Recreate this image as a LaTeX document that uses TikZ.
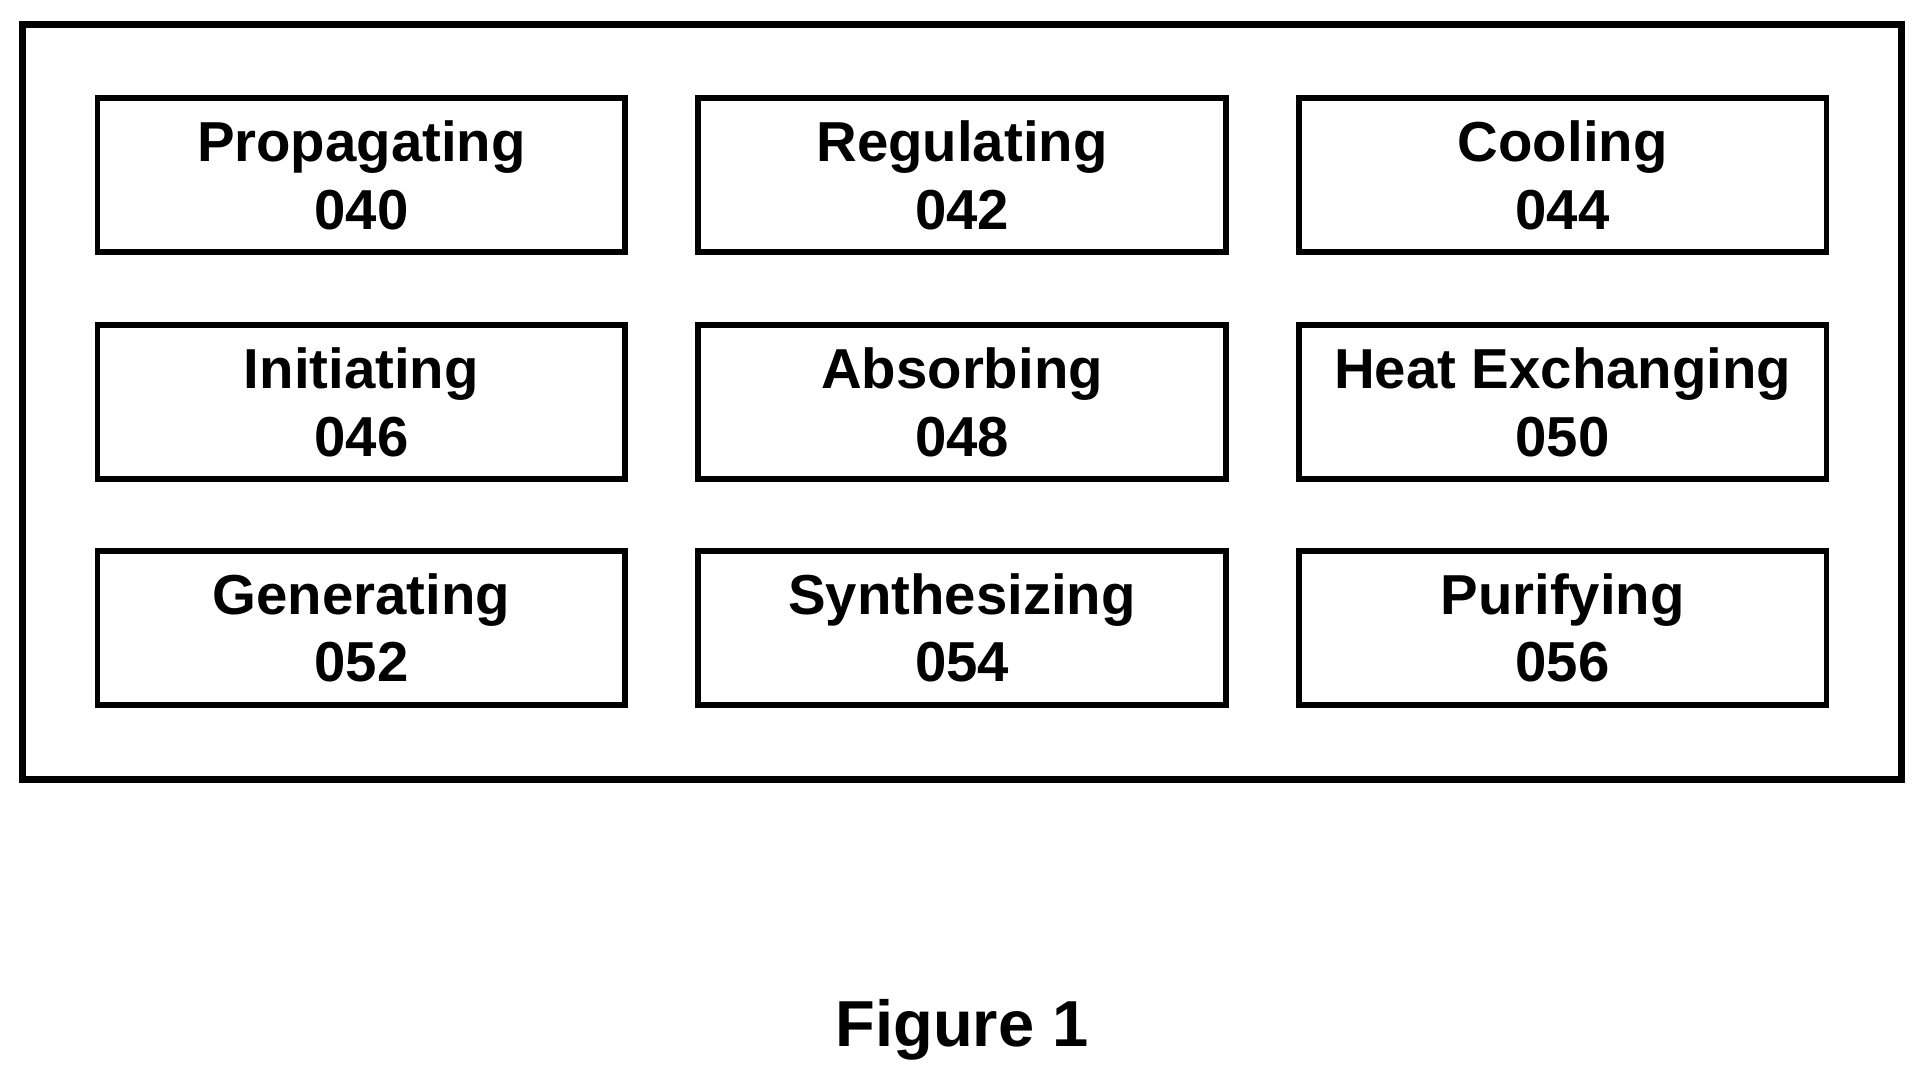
\documentclass[tikz,border=0pt]{standalone}
\usepackage{fontspec}
\setmainfont{Liberation Sans}
\tikzset{
  stage/.style={draw, line width=1.3pt, minimum width=4.28cm, minimum height=1.25cm,
    align=center, font=\bfseries\fontsize{13}{15.5}\selectfont, inner sep=0pt,
    text depth=0pt},
}
\begin{document}
\begin{tikzpicture}
    \useasboundingbox (0,0) rectangle (15.6,-8.74);
    \draw [line width=1.6pt] (0.18,-0.2) rectangle (15.42,-6.32);
    \node [stage] (prop) at (2.93,-1.42) {Propagating\\040};
    \node [stage] (regu) at (7.80,-1.42) {Regulating\\042};
    \node [stage] (cool) at (12.67,-1.42) {Cooling\\044};
    \node [stage] (init) at (2.93,-3.26) {Initiating\\046};
    \node [stage] (abso) at (7.80,-3.26) {Absorbing\\048};
    \node [stage] (heat) at (12.67,-3.26) {Heat Exchanging\\050};
    \node [stage] (gene) at (2.93,-5.09) {Generating\\052};
    \node [stage] (synt) at (7.80,-5.09) {Synthesizing\\054};
    \node [stage] (puri) at (12.67,-5.09) {Purifying\\056};
    \node [font=\bfseries\fontsize{15}{18}\selectfont] (fig) at (7.80,-8.35) {Figure 1};
  \end{tikzpicture}
\end{document}
